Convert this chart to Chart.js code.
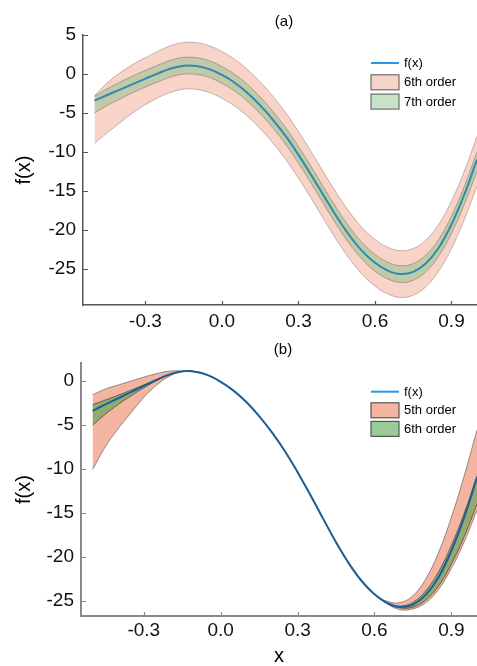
<!DOCTYPE html>
<html><head><meta charset="utf-8">
<script src="https://cdn.jsdelivr.net/npm/chart.js@4.4.0/dist/chart.umd.min.js"></script>
<style>
html,body{margin:0;padding:0;background:#fff;}
#wrap{position:relative;width:477px;height:666px;overflow:hidden;background:#fff;}
canvas{position:absolute;left:0;}
#ca{top:0;} #cb{top:333px;}
</style></head><body>
<div id="wrap"><canvas id="ca" width="477" height="333"></canvas><canvas id="cb" width="477" height="333"></canvas></div>
<script>
// ---- data ----
const xs = [-0.5,-0.45,-0.4,-0.35,-0.3,-0.25,-0.2,-0.15,-0.1,-0.05,0,0.05,0.1,0.15,0.2,0.25,0.3,0.35,0.4,0.45,0.5,0.55,0.6,0.65,0.7,0.75,0.8,0.85,0.9,0.95,1.0];
const fx = [-3.42,-2.7,-2.0,-1.3,-0.6,0.08,0.7,1.05,1.02,0.62,-0.13,-1.13,-2.43,-4.03,-5.88,-7.98,-10.38,-12.98,-15.68,-18.33,-20.73,-22.73,-24.23,-25.23,-25.68,-25.4,-24.3,-22.3,-19.3,-15.5,-11.0];
// panel (a)
const a6Upper = [-2.77,-1.15,0.14,1.2,2.1,2.93,3.65,4.05,4.02,3.62,2.87,1.87,0.57,-1.03,-2.88,-4.98,-7.38,-9.98,-12.68,-15.33,-17.73,-19.73,-21.23,-22.23,-22.68,-22.4,-21.3,-19.3,-16.3,-12.5,-8.0];
const a6Lower = [-8.87,-7.55,-6.25,-5.0,-3.92,-3.04,-2.35,-1.95,-1.98,-2.38,-3.13,-4.13,-5.43,-7.03,-8.88,-10.98,-13.38,-15.98,-18.68,-21.33,-23.73,-25.73,-27.23,-28.23,-28.68,-28.4,-27.3,-25.3,-22.4,-18.7,-14.4];
const a7Upper = [-2.87,-1.9,-1.05,-0.27,0.47,1.15,1.77,2.12,2.09,1.69,0.94,-0.06,-1.36,-2.96,-4.81,-6.91,-9.31,-11.91,-14.61,-17.26,-19.66,-21.66,-23.16,-24.16,-24.61,-24.33,-23.23,-21.23,-18.23,-14.45,-10.0];
const a7Lower = [-5.02,-4.05,-3.2,-2.42,-1.67,-0.99,-0.37,-0.02,-0.05,-0.45,-1.2,-2.2,-3.5,-5.1,-6.95,-9.05,-11.45,-14.05,-16.75,-19.4,-21.8,-23.8,-25.3,-26.3,-26.75,-26.47,-25.37,-23.37,-20.45,-16.75,-12.5];
// panel (b)
const b5Upper = [-1.62,-0.95,-0.5,-0.05,0.4,0.8,1.08,1.1,1.02,0.62,-0.13,-1.13,-2.43,-4.03,-5.88,-7.98,-10.38,-12.98,-15.68,-18.33,-20.73,-22.73,-24.23,-25.03,-25.18,-24.4,-22.5,-19.5,-15.5,-10.8,-5.6];
const b5Lower = [-10.1,-7.5,-5.45,-3.65,-1.9,-0.5,0.5,1.0,1.02,0.62,-0.13,-1.13,-2.43,-4.03,-5.88,-7.98,-10.38,-12.98,-15.68,-18.33,-20.73,-22.73,-24.23,-25.33,-25.98,-25.9,-25.2,-23.7,-21.3,-18.3,-14.7];
const b6Upper = [-2.73,-2.2,-1.65,-1.08,-0.48,0.13,0.7,1.05,1.02,0.62,-0.13,-1.13,-2.43,-4.03,-5.88,-7.98,-10.38,-12.98,-15.68,-18.33,-20.73,-22.73,-24.23,-25.18,-25.58,-25.15,-23.85,-21.7,-18.7,-15.05,-10.8];
const b6Lower = [-5.07,-3.8,-2.7,-1.72,-0.82,0.0,0.7,1.05,1.02,0.62,-0.13,-1.13,-2.43,-4.03,-5.88,-7.98,-10.38,-12.98,-15.68,-18.33,-20.73,-22.73,-24.23,-25.28,-25.78,-25.7,-24.9,-23.3,-20.8,-17.7,-14.0];
// ticks & labels
const xTicks = [-0.3, 0.0, 0.3, 0.6, 0.9];
const yTicksA = [5, 0, -5, -10, -15, -20, -25];
const yTicksB = [0, -5, -10, -15, -20, -25];
const legendA = ['f(x)', '6th order', '7th order'];
const legendB = ['f(x)', '5th order', '6th order'];
const panelTitles = ['(a)', '(b)'];
const yTitle = 'f(x)';
const xTitle = 'x';

// ---- rendering ----
Chart.defaults.font.family = "'Liberation Sans', Arial, Helvetica, sans-serif";
Chart.defaults.color = '#111';

const pts = arr => xs.map((x, i) => ({x: x, y: arr[i]}));

const decor = {
  id: 'decor',
  afterDraw(chart, args, o) {
    const ctx = chart.ctx, ca = chart.chartArea;
    const sx = chart.scales.x, sy = chart.scales.y;
    ctx.save();
    ctx.strokeStyle = o.axisColor; ctx.lineWidth = o.tickWidth;
    ctx.beginPath();
    sy.ticks.forEach(t => { const p = Math.round(sy.getPixelForValue(t.value)) + 0.5; ctx.moveTo(ca.left, p); ctx.lineTo(ca.left + o.yTickLen, p); });
    sx.ticks.forEach(t => { const p = Math.round(sx.getPixelForValue(t.value)) + 0.5; ctx.moveTo(p, ca.bottom); ctx.lineTo(p, ca.bottom - o.xTickLen); });
    ctx.stroke();
    ctx.fillStyle = '#000'; ctx.font = o.titleFont; ctx.textAlign = 'center'; ctx.textBaseline = 'middle';
    ctx.fillText(o.title, o.titleX, o.titleY);
    const L = o.legend;
    ctx.font = L.font; ctx.textAlign = 'left'; ctx.textBaseline = 'middle';
    L.items.forEach((it, i) => {
      const cy = L.y + i * L.spacing;
      if (it.type === 'line') {
        ctx.strokeStyle = it.color; ctx.lineWidth = 2;
        ctx.beginPath(); ctx.moveTo(L.x, cy); ctx.lineTo(L.x + L.boxW, cy); ctx.stroke();
      } else {
        const ds = chart.data.datasets[it.ds];
        ctx.fillStyle = '#fff'; ctx.fillRect(L.x, cy - L.boxH / 2, L.boxW, L.boxH);
        ctx.fillStyle = ds.backgroundColor; ctx.fillRect(L.x, cy - L.boxH / 2, L.boxW, L.boxH);
        ctx.strokeStyle = L.boxBorder; ctx.lineWidth = 1.2;
        ctx.strokeRect(L.x, cy - L.boxH / 2, L.boxW, L.boxH);
      }
      ctx.fillStyle = '#000';
      ctx.fillText(it.label, L.x + L.boxW + 5, cy + 0.5);
    });
    ctx.restore();
  }
};

function makeChart(id, cfg) {
  const datasets = [
    {label: cfg.legend[0], data: pts(fx), borderColor: cfg.lineColor, borderWidth: 2, fill: false},
    {label: cfg.legend[2] + ' upper', data: pts(cfg.gU), borderColor: cfg.gBorder, borderWidth: 1, fill: false, backgroundColor: cfg.gFill},
    {label: cfg.legend[2], data: pts(cfg.gL), borderColor: cfg.gBorder, borderWidth: 1, fill: '-1', backgroundColor: cfg.gFill},
    {label: cfg.legend[1] + ' upper', data: pts(cfg.pU), borderColor: cfg.pBorder, borderWidth: 1, fill: false, backgroundColor: cfg.pFill},
    {label: cfg.legend[1], data: pts(cfg.pL), borderColor: cfg.pBorder, borderWidth: 1, fill: '-1', backgroundColor: cfg.pFill}
  ];
  return new Chart(document.getElementById(id), {
    type: 'line',
    data: {datasets: datasets},
    plugins: [decor],
    options: {
      responsive: false, animation: false, devicePixelRatio: 1,
      layout: {padding: {top: cfg.padTop, left: 0, right: 0, bottom: 0}},
      elements: {point: {radius: 0, hoverRadius: 0}, line: {tension: 0.4}},
      plugins: {
        legend: {display: false}, tooltip: {enabled: false},
        decor: {
          axisColor: cfg.axisColor, tickWidth: cfg.tickWidth, yTickLen: 5, xTickLen: 4,
          title: cfg.title, titleFont: "15px 'Liberation Sans', Arial, sans-serif", titleX: cfg.titleX, titleY: cfg.titleY,
          legend: {
            x: 371, y: cfg.legY, spacing: cfg.legSp, boxW: 28, boxH: 15, boxBorder: cfg.boxBorder,
            font: "13px 'Liberation Sans', Arial, sans-serif",
            items: [
              {type: 'line', color: cfg.legLineColor, label: cfg.legend[0]},
              {type: 'box', ds: 4, label: cfg.legend[1]},
              {type: 'box', ds: 2, label: cfg.legend[2]}
            ]
          }
        }
      },
      scales: {
        x: {
          type: 'linear', min: -0.545, max: 1.0, position: 'bottom',
          grid: {display: false, drawTicks: false},
          border: {display: true, color: cfg.axisColor, width: cfg.axisWidth},
          ticks: {autoSkip: false, maxRotation: 0, padding: cfg.xPad, color: '#111', font: {size: 19}, callback: v => Number(v).toFixed(1)},
          afterBuildTicks: s => { s.ticks = xTicks.map(v => ({value: v})); },
          afterFit: s => { s.height = cfg.xHeight; },
          title: cfg.showX ? {display: true, text: xTitle, color: '#000', font: {size: 20, lineHeight: 1}, padding: {top: 0, bottom: 0}} : {display: false}
        },
        y: {
          type: 'linear', min: cfg.yMin, max: cfg.yMax,
          grid: {display: false, drawTicks: false},
          border: {display: true, color: cfg.axisColor, width: cfg.axisWidth},
          ticks: {autoSkip: false, padding: 7, color: '#111', font: {size: 19}, callback: v => String(v)},
          afterBuildTicks: s => { s.ticks = cfg.yTicks.map(v => ({value: v})); },
          afterFit: s => { s.width = cfg.yWidth; },
          title: {display: true, text: yTitle, color: '#000', font: {size: 20, lineHeight: 1}, padding: {top: 14, bottom: 0}}
        }
      }
    }
  });
}

makeChart('ca', {
  legend: legendA, title: panelTitles[0], titleX: 284, titleY: 21.5,
  gU: a7Upper, gL: a7Lower, pU: a6Upper, pL: a6Lower,
  lineColor: '#2b8cb0', legLineColor: '#1f9be8',
  gFill: 'rgba(130,190,130,0.45)', gBorder: 'rgba(90,100,80,0.45)',
  pFill: 'rgba(240,175,155,0.55)', pBorder: 'rgba(150,120,115,0.5)',
  boxBorder: '#6e6e6e',
  axisColor: '#555', axisWidth: 1.5, tickWidth: 1.2,
  padTop: 35, yWidth: 83, xHeight: 28, xPad: 5, showX: false,
  yMin: -29.65, yMax: 5, yTicks: yTicksA,
  legY: 63, legSp: 19.3
});

makeChart('cb', {
  legend: legendB, title: panelTitles[1], titleX: 283, titleY: 17,
  gU: b6Upper, gL: b6Lower, pU: b5Upper, pL: b5Lower,
  lineColor: '#1c5f99', legLineColor: '#1f9be8',
  gFill: 'rgba(70,160,70,0.55)', gBorder: 'rgba(60,60,60,0.7)',
  pFill: 'rgba(238,150,120,0.7)', pBorder: 'rgba(90,80,80,0.6)',
  boxBorder: '#555',
  axisColor: '#8a8a8a', axisWidth: 2, tickWidth: 1.2,
  padTop: 30, yWidth: 81, xHeight: 50, xPad: 3, showX: true,
  yMin: -26.7, yMax: 2, yTicks: yTicksB,
  legY: 58.7, legSp: 18.6
});
</script>
</body></html>
